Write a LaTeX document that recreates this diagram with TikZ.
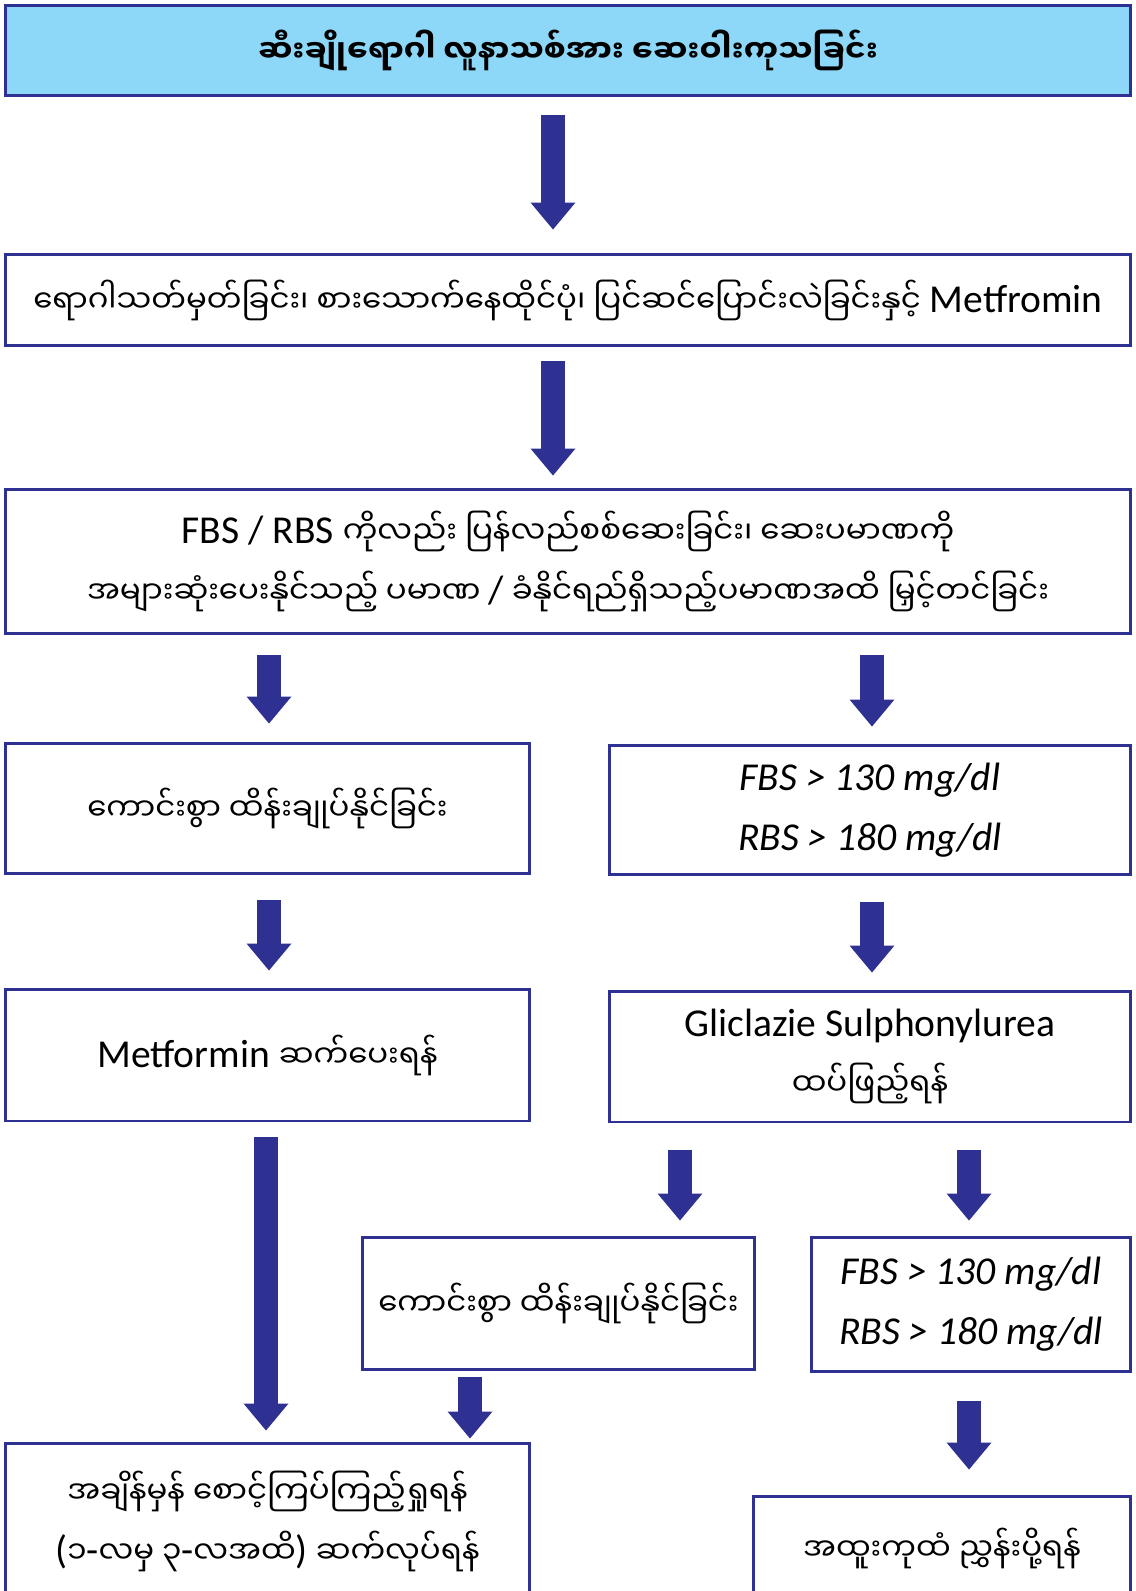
\documentclass[tikz,border=0pt]{standalone}
\usepackage{fontspec}
\setmainfont{Carlito}
\newfontfamily\mya[Script=Myanmar, Scale=0.78]{Noto Sans Myanmar UI}
\usetikzlibrary{arrows.meta}

\definecolor{navy}{HTML}{2E3192}
\definecolor{skyfill}{HTML}{8DD8F8}

\tikzset{
  box/.style={draw=navy, line width=0.06cm, fill=white, align=center,
    inner sep=0pt, font=\fontsize{22.5}{34}\selectfont},
  flow/.style={draw=navy, line width=0.48cm,
    -{Triangle[width=0.9cm, length=0.54cm, line width=0pt]}}
}
% punctuation the Myanmar face lacks
\newcommand{\lat}[1]{{\rmfamily #1}}

\begin{document}
\begin{tikzpicture}[x=0.02cm, y=-0.02cm]
  \useasboundingbox (0,0) rectangle (1135,1591);
  % columns the block arrows run down
  \coordinate (cmain) at (553,0);
  \coordinate (cleft) at (269,0);
  \coordinate (cright) at (872,0);
  \coordinate (clong) at (266,0);
  \coordinate (cmid) at (680,0);
  \coordinate (cfar) at (969,0);
  \coordinate (cback) at (470,0);

  % the full-width steps at the top
  \node[box, fill=skyfill, minimum width=22.52cm, minimum height=1.82cm] (title) at (568,50.5)
    {\mya\bfseries ဆီးချိုရောဂါ လူနာသစ်အား ဆေးဝါးကုသခြင်း};
  \node[box, minimum width=22.52cm, minimum height=1.84cm] (start) at (568,300)
    {{\mya ရောဂါသတ်မှတ်ခြင်း၊ စားသောက်နေထိုင်ပုံ၊ ပြင်ဆင်ပြောင်းလဲခြင်းနှင့်} Metfromin};
  \node[box, minimum width=22.52cm, minimum height=2.9cm] (check) at (568,561.5)
    {FBS / RBS {\mya ကိုလည်း ပြန်လည်စစ်ဆေးခြင်း၊ ဆေးပမာဏကို}\\
     {\mya အများဆုံးပေးနိုင်သည့် ပမာဏ \lat{/} ခံနိုင်ရည်ရှိသည့်ပမာဏအထိ မြှင့်တင်ခြင်း}};

  % two branches
  \node[box, minimum width=10.5cm, minimum height=2.62cm] (goodA) at (267.5,808.5)
    {\mya ကောင်းစွာ ထိန်းချုပ်နိုင်ခြင်း};
  \node[box, minimum width=10.44cm, minimum height=2.6cm] (highA) at (870,810)
    {\itshape FBS > 130 mg/dl\\ \itshape RBS > 180 mg/dl};
  \node[box, minimum width=10.5cm, minimum height=2.64cm] (keep) at (267.5,1055)
    {Metformin {\mya ဆက်ပေးရန်}};
  \node[box, minimum width=10.44cm, minimum height=2.62cm] (addsu) at (870,1056.5)
    {Gliclazie Sulphonylurea\\ {\mya ထပ်ဖြည့်ရန်}};

  % after the second drug
  \node[box, minimum width=7.86cm, minimum height=2.64cm] (goodB) at (558.5,1303)
    {\mya ကောင်းစွာ ထိန်းချုပ်နိုင်ခြင်း};
  \node[box, minimum width=6.4cm, minimum height=2.68cm] (highB) at (971,1304)
    {\itshape FBS > 130 mg/dl\\ \itshape RBS > 180 mg/dl};

  % the two ends, running off the bottom of the page
  \node[box, minimum width=10.5cm, minimum height=3.14cm] (follow) at (267.5,1521.5)
    {\mya အချိန်မှန် စောင့်ကြပ်ကြည့်ရှုရန်\\
     \mya \lat{(}၁\lat{-}လမှ ၃\lat{-}လအထိ\lat{)} ဆက်လုပ်ရန်};
  \node[box, minimum width=7.56cm, minimum height=2.08cm] (refer) at (942,1548)
    {\mya အထူးကုထံ ညွှန်းပို့ရန်};

  % block arrows
  \draw[flow, shorten <=0.36cm, shorten >=0.46cm] (title.south -| cmain) -- (start.north -| cmain);
  \draw[flow, shorten <=0.28cm, shorten >=0.24cm] (start.south -| cmain) -- (check.north -| cmain);
  \draw[flow, shorten <=0.4cm, shorten >=0.36cm] (check.south -| cleft) -- (goodA.north -| cleft);
  \draw[flow, shorten <=0.4cm, shorten >=0.34cm] (check.south -| cright) -- (highA.north -| cright);
  \draw[flow, shorten <=0.5cm, shorten >=0.34cm] (goodA.south -| cleft) -- (keep.north -| cleft);
  \draw[flow, shorten <=0.52cm, shorten >=0.34cm] (highA.south -| cright) -- (addsu.north -| cright);
  \draw[flow, shorten <=0.3cm, shorten >=0.22cm] (keep.south -| clong) -- (follow.north -| clong);
  \draw[flow, shorten <=0.54cm, shorten >=0.3cm] (addsu.south -| cmid) -- (goodB.north -| cmid);
  \draw[flow, shorten <=0.54cm, shorten >=0.3cm] (addsu.south -| cfar) -- (highB.north -| cfar);
  \draw[flow, shorten <=0.12cm, shorten >=0.06cm] (goodB.south -| cback) -- (follow.north -| cback);
  \draw[flow, shorten <=0.58cm, shorten >=0.5cm] (highB.south -| cfar) -- (refer.north -| cfar);
\end{tikzpicture}
\end{document}
